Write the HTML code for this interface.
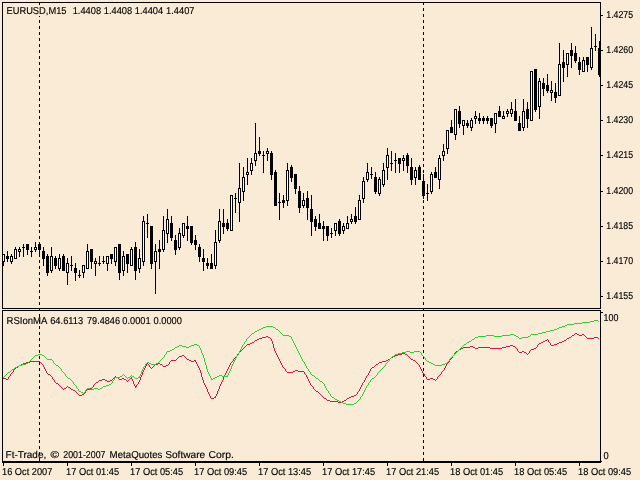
<!DOCTYPE html>
<html lang="en"><head><meta charset="utf-8"><title>EURUSD,M15</title>
<style>html,body{margin:0;padding:0;background:#FAEBD7;overflow:hidden}svg{display:block;will-change:transform}text{font-family:"Liberation Sans",sans-serif;font-size:10px;text-rendering:geometricPrecision;fill:#000;white-space:pre;stroke:#000;stroke-width:0.15px}</style></head><body>
<svg width="640" height="480" viewBox="0 0 640 480">
<rect width="640" height="480" fill="#FAEBD7"/>
<g shape-rendering="crispEdges">
<rect x="39" y="2" width="1" height="3" fill="#000"/>
<rect x="39" y="16" width="1" height="1" fill="#000"/>
<rect x="39" y="20" width="1" height="3" fill="#000"/>
<rect x="39" y="26" width="1" height="3" fill="#000"/>
<rect x="39" y="32" width="1" height="3" fill="#000"/>
<rect x="39" y="38" width="1" height="3" fill="#000"/>
<rect x="39" y="44" width="1" height="3" fill="#000"/>
<rect x="39" y="50" width="1" height="3" fill="#000"/>
<rect x="39" y="56" width="1" height="3" fill="#000"/>
<rect x="39" y="62" width="1" height="3" fill="#000"/>
<rect x="39" y="68" width="1" height="3" fill="#000"/>
<rect x="39" y="74" width="1" height="3" fill="#000"/>
<rect x="39" y="80" width="1" height="3" fill="#000"/>
<rect x="39" y="86" width="1" height="3" fill="#000"/>
<rect x="39" y="92" width="1" height="3" fill="#000"/>
<rect x="39" y="98" width="1" height="3" fill="#000"/>
<rect x="39" y="104" width="1" height="3" fill="#000"/>
<rect x="39" y="110" width="1" height="3" fill="#000"/>
<rect x="39" y="116" width="1" height="3" fill="#000"/>
<rect x="39" y="122" width="1" height="3" fill="#000"/>
<rect x="39" y="128" width="1" height="3" fill="#000"/>
<rect x="39" y="134" width="1" height="3" fill="#000"/>
<rect x="39" y="140" width="1" height="3" fill="#000"/>
<rect x="39" y="146" width="1" height="3" fill="#000"/>
<rect x="39" y="152" width="1" height="3" fill="#000"/>
<rect x="39" y="158" width="1" height="3" fill="#000"/>
<rect x="39" y="164" width="1" height="3" fill="#000"/>
<rect x="39" y="170" width="1" height="3" fill="#000"/>
<rect x="39" y="176" width="1" height="3" fill="#000"/>
<rect x="39" y="182" width="1" height="3" fill="#000"/>
<rect x="39" y="188" width="1" height="3" fill="#000"/>
<rect x="39" y="194" width="1" height="3" fill="#000"/>
<rect x="39" y="200" width="1" height="3" fill="#000"/>
<rect x="39" y="206" width="1" height="3" fill="#000"/>
<rect x="39" y="212" width="1" height="3" fill="#000"/>
<rect x="39" y="218" width="1" height="3" fill="#000"/>
<rect x="39" y="224" width="1" height="3" fill="#000"/>
<rect x="39" y="230" width="1" height="3" fill="#000"/>
<rect x="39" y="236" width="1" height="3" fill="#000"/>
<rect x="39" y="242" width="1" height="3" fill="#000"/>
<rect x="39" y="248" width="1" height="3" fill="#000"/>
<rect x="39" y="254" width="1" height="3" fill="#000"/>
<rect x="39" y="260" width="1" height="3" fill="#000"/>
<rect x="39" y="266" width="1" height="3" fill="#000"/>
<rect x="39" y="272" width="1" height="3" fill="#000"/>
<rect x="39" y="278" width="1" height="3" fill="#000"/>
<rect x="39" y="284" width="1" height="3" fill="#000"/>
<rect x="39" y="290" width="1" height="3" fill="#000"/>
<rect x="39" y="296" width="1" height="3" fill="#000"/>
<rect x="39" y="302" width="1" height="3" fill="#000"/>
<rect x="39" y="308" width="1" height="3" fill="#000"/>
<rect x="39" y="314" width="1" height="3" fill="#000"/>
<rect x="39" y="320" width="1" height="3" fill="#000"/>
<rect x="39" y="326" width="1" height="3" fill="#000"/>
<rect x="39" y="332" width="1" height="3" fill="#000"/>
<rect x="39" y="338" width="1" height="3" fill="#000"/>
<rect x="39" y="344" width="1" height="3" fill="#000"/>
<rect x="39" y="350" width="1" height="3" fill="#000"/>
<rect x="39" y="356" width="1" height="3" fill="#000"/>
<rect x="39" y="362" width="1" height="3" fill="#000"/>
<rect x="39" y="368" width="1" height="3" fill="#000"/>
<rect x="39" y="374" width="1" height="3" fill="#000"/>
<rect x="39" y="380" width="1" height="3" fill="#000"/>
<rect x="39" y="386" width="1" height="3" fill="#000"/>
<rect x="39" y="392" width="1" height="3" fill="#000"/>
<rect x="39" y="398" width="1" height="3" fill="#000"/>
<rect x="39" y="404" width="1" height="3" fill="#000"/>
<rect x="39" y="410" width="1" height="3" fill="#000"/>
<rect x="39" y="416" width="1" height="3" fill="#000"/>
<rect x="39" y="422" width="1" height="3" fill="#000"/>
<rect x="39" y="428" width="1" height="3" fill="#000"/>
<rect x="39" y="434" width="1" height="3" fill="#000"/>
<rect x="39" y="440" width="1" height="3" fill="#000"/>
<rect x="39" y="446" width="1" height="3" fill="#000"/>
<rect x="39" y="452" width="1" height="3" fill="#000"/>
<rect x="39" y="458" width="1" height="3" fill="#000"/>
<rect x="423" y="2" width="1" height="3" fill="#000"/>
<rect x="423" y="8" width="1" height="3" fill="#000"/>
<rect x="423" y="14" width="1" height="3" fill="#000"/>
<rect x="423" y="20" width="1" height="3" fill="#000"/>
<rect x="423" y="26" width="1" height="3" fill="#000"/>
<rect x="423" y="32" width="1" height="3" fill="#000"/>
<rect x="423" y="38" width="1" height="3" fill="#000"/>
<rect x="423" y="44" width="1" height="3" fill="#000"/>
<rect x="423" y="50" width="1" height="3" fill="#000"/>
<rect x="423" y="56" width="1" height="3" fill="#000"/>
<rect x="423" y="62" width="1" height="3" fill="#000"/>
<rect x="423" y="68" width="1" height="3" fill="#000"/>
<rect x="423" y="74" width="1" height="3" fill="#000"/>
<rect x="423" y="80" width="1" height="3" fill="#000"/>
<rect x="423" y="86" width="1" height="3" fill="#000"/>
<rect x="423" y="92" width="1" height="3" fill="#000"/>
<rect x="423" y="98" width="1" height="3" fill="#000"/>
<rect x="423" y="104" width="1" height="3" fill="#000"/>
<rect x="423" y="110" width="1" height="3" fill="#000"/>
<rect x="423" y="116" width="1" height="3" fill="#000"/>
<rect x="423" y="122" width="1" height="3" fill="#000"/>
<rect x="423" y="128" width="1" height="3" fill="#000"/>
<rect x="423" y="134" width="1" height="3" fill="#000"/>
<rect x="423" y="140" width="1" height="3" fill="#000"/>
<rect x="423" y="146" width="1" height="3" fill="#000"/>
<rect x="423" y="152" width="1" height="3" fill="#000"/>
<rect x="423" y="158" width="1" height="3" fill="#000"/>
<rect x="423" y="164" width="1" height="3" fill="#000"/>
<rect x="423" y="170" width="1" height="3" fill="#000"/>
<rect x="423" y="176" width="1" height="3" fill="#000"/>
<rect x="423" y="182" width="1" height="3" fill="#000"/>
<rect x="423" y="188" width="1" height="3" fill="#000"/>
<rect x="423" y="194" width="1" height="3" fill="#000"/>
<rect x="423" y="200" width="1" height="3" fill="#000"/>
<rect x="423" y="206" width="1" height="3" fill="#000"/>
<rect x="423" y="212" width="1" height="3" fill="#000"/>
<rect x="423" y="218" width="1" height="3" fill="#000"/>
<rect x="423" y="224" width="1" height="3" fill="#000"/>
<rect x="423" y="230" width="1" height="3" fill="#000"/>
<rect x="423" y="236" width="1" height="3" fill="#000"/>
<rect x="423" y="242" width="1" height="3" fill="#000"/>
<rect x="423" y="248" width="1" height="3" fill="#000"/>
<rect x="423" y="254" width="1" height="3" fill="#000"/>
<rect x="423" y="260" width="1" height="3" fill="#000"/>
<rect x="423" y="266" width="1" height="3" fill="#000"/>
<rect x="423" y="272" width="1" height="3" fill="#000"/>
<rect x="423" y="278" width="1" height="3" fill="#000"/>
<rect x="423" y="284" width="1" height="3" fill="#000"/>
<rect x="423" y="290" width="1" height="3" fill="#000"/>
<rect x="423" y="296" width="1" height="3" fill="#000"/>
<rect x="423" y="302" width="1" height="3" fill="#000"/>
<rect x="423" y="308" width="1" height="3" fill="#000"/>
<rect x="423" y="314" width="1" height="3" fill="#000"/>
<rect x="423" y="320" width="1" height="3" fill="#000"/>
<rect x="423" y="326" width="1" height="3" fill="#000"/>
<rect x="423" y="332" width="1" height="3" fill="#000"/>
<rect x="423" y="338" width="1" height="3" fill="#000"/>
<rect x="423" y="344" width="1" height="3" fill="#000"/>
<rect x="423" y="350" width="1" height="3" fill="#000"/>
<rect x="423" y="356" width="1" height="3" fill="#000"/>
<rect x="423" y="362" width="1" height="3" fill="#000"/>
<rect x="423" y="368" width="1" height="3" fill="#000"/>
<rect x="423" y="374" width="1" height="3" fill="#000"/>
<rect x="423" y="380" width="1" height="3" fill="#000"/>
<rect x="423" y="386" width="1" height="3" fill="#000"/>
<rect x="423" y="392" width="1" height="3" fill="#000"/>
<rect x="423" y="398" width="1" height="3" fill="#000"/>
<rect x="423" y="404" width="1" height="3" fill="#000"/>
<rect x="423" y="410" width="1" height="3" fill="#000"/>
<rect x="423" y="416" width="1" height="3" fill="#000"/>
<rect x="423" y="422" width="1" height="3" fill="#000"/>
<rect x="423" y="428" width="1" height="3" fill="#000"/>
<rect x="423" y="434" width="1" height="3" fill="#000"/>
<rect x="423" y="440" width="1" height="3" fill="#000"/>
<rect x="423" y="446" width="1" height="3" fill="#000"/>
<rect x="423" y="452" width="1" height="3" fill="#000"/>
<rect x="423" y="458" width="1" height="3" fill="#000"/>
<g id="candles">
<rect x="3" y="254" width="1" height="12" fill="#000"/>
<rect x="2" y="254" width="3" height="8" fill="#000"/>
<rect x="3" y="255" width="1" height="6" fill="#fff"/>
<rect x="7" y="251" width="1" height="11" fill="#000"/>
<rect x="6" y="256" width="3" height="3" fill="#000"/>
<rect x="11" y="254" width="1" height="10" fill="#000"/>
<rect x="10" y="256" width="3" height="6" fill="#000"/>
<rect x="11" y="257" width="1" height="4" fill="#fff"/>
<rect x="15" y="247" width="1" height="12" fill="#000"/>
<rect x="14" y="249" width="3" height="10" fill="#000"/>
<rect x="15" y="250" width="1" height="8" fill="#fff"/>
<rect x="19" y="247" width="1" height="10" fill="#000"/>
<rect x="18" y="249" width="3" height="3" fill="#000"/>
<rect x="19" y="250" width="1" height="1" fill="#fff"/>
<rect x="23" y="244" width="1" height="13" fill="#000"/>
<rect x="22" y="247" width="3" height="1" fill="#000"/>
<rect x="27" y="244" width="1" height="11" fill="#000"/>
<rect x="26" y="244" width="3" height="6" fill="#000"/>
<rect x="31" y="247" width="1" height="10" fill="#000"/>
<rect x="30" y="251" width="3" height="1" fill="#000"/>
<rect x="35" y="242" width="1" height="10" fill="#000"/>
<rect x="34" y="247" width="3" height="3" fill="#000"/>
<rect x="35" y="248" width="1" height="1" fill="#fff"/>
<rect x="39" y="244" width="1" height="13" fill="#000"/>
<rect x="38" y="244" width="3" height="6" fill="#000"/>
<rect x="43" y="247" width="1" height="19" fill="#000"/>
<rect x="42" y="251" width="3" height="8" fill="#000"/>
<rect x="47" y="254" width="1" height="22" fill="#000"/>
<rect x="46" y="256" width="3" height="17" fill="#000"/>
<rect x="51" y="247" width="1" height="26" fill="#000"/>
<rect x="50" y="256" width="3" height="15" fill="#000"/>
<rect x="51" y="257" width="1" height="13" fill="#fff"/>
<rect x="55" y="256" width="1" height="13" fill="#000"/>
<rect x="54" y="258" width="3" height="8" fill="#000"/>
<rect x="59" y="254" width="1" height="17" fill="#000"/>
<rect x="58" y="258" width="3" height="11" fill="#000"/>
<rect x="59" y="259" width="1" height="9" fill="#fff"/>
<rect x="63" y="254" width="1" height="17" fill="#000"/>
<rect x="62" y="256" width="3" height="15" fill="#000"/>
<rect x="67" y="258" width="1" height="27" fill="#000"/>
<rect x="66" y="263" width="3" height="10" fill="#000"/>
<rect x="67" y="264" width="1" height="8" fill="#fff"/>
<rect x="71" y="256" width="1" height="15" fill="#000"/>
<rect x="70" y="265" width="3" height="1" fill="#000"/>
<rect x="75" y="263" width="1" height="18" fill="#000"/>
<rect x="74" y="268" width="3" height="5" fill="#000"/>
<rect x="79" y="270" width="1" height="8" fill="#000"/>
<rect x="78" y="275" width="3" height="1" fill="#000"/>
<rect x="83" y="265" width="1" height="13" fill="#000"/>
<rect x="82" y="265" width="3" height="8" fill="#000"/>
<rect x="83" y="266" width="1" height="6" fill="#fff"/>
<rect x="87" y="244" width="1" height="25" fill="#000"/>
<rect x="86" y="251" width="3" height="18" fill="#000"/>
<rect x="87" y="252" width="1" height="16" fill="#fff"/>
<rect x="91" y="249" width="1" height="20" fill="#000"/>
<rect x="90" y="249" width="3" height="13" fill="#000"/>
<rect x="95" y="258" width="1" height="18" fill="#000"/>
<rect x="94" y="261" width="3" height="3" fill="#000"/>
<rect x="95" y="262" width="1" height="1" fill="#fff"/>
<rect x="99" y="256" width="1" height="10" fill="#000"/>
<rect x="98" y="263" width="3" height="1" fill="#000"/>
<rect x="103" y="256" width="1" height="8" fill="#000"/>
<rect x="102" y="261" width="3" height="1" fill="#000"/>
<rect x="107" y="256" width="1" height="15" fill="#000"/>
<rect x="106" y="256" width="3" height="8" fill="#000"/>
<rect x="107" y="257" width="1" height="6" fill="#fff"/>
<rect x="111" y="254" width="1" height="10" fill="#000"/>
<rect x="110" y="254" width="3" height="5" fill="#000"/>
<rect x="115" y="247" width="1" height="19" fill="#000"/>
<rect x="114" y="247" width="3" height="15" fill="#000"/>
<rect x="115" y="248" width="1" height="13" fill="#fff"/>
<rect x="119" y="244" width="1" height="36" fill="#000"/>
<rect x="118" y="244" width="3" height="29" fill="#000"/>
<rect x="123" y="251" width="1" height="25" fill="#000"/>
<rect x="122" y="256" width="3" height="15" fill="#000"/>
<rect x="123" y="257" width="1" height="13" fill="#fff"/>
<rect x="127" y="254" width="1" height="19" fill="#000"/>
<rect x="126" y="254" width="3" height="10" fill="#000"/>
<rect x="131" y="247" width="1" height="19" fill="#000"/>
<rect x="130" y="249" width="3" height="17" fill="#000"/>
<rect x="131" y="250" width="1" height="15" fill="#fff"/>
<rect x="135" y="242" width="1" height="38" fill="#000"/>
<rect x="134" y="247" width="3" height="24" fill="#000"/>
<rect x="139" y="249" width="1" height="24" fill="#000"/>
<rect x="138" y="258" width="3" height="11" fill="#000"/>
<rect x="139" y="259" width="1" height="9" fill="#fff"/>
<rect x="143" y="216" width="1" height="50" fill="#000"/>
<rect x="142" y="221" width="3" height="41" fill="#000"/>
<rect x="143" y="222" width="1" height="39" fill="#fff"/>
<rect x="147" y="214" width="1" height="24" fill="#000"/>
<rect x="146" y="223" width="3" height="1" fill="#000"/>
<rect x="151" y="226" width="1" height="43" fill="#000"/>
<rect x="150" y="226" width="3" height="38" fill="#000"/>
<rect x="155" y="244" width="1" height="50" fill="#000"/>
<rect x="154" y="251" width="3" height="11" fill="#000"/>
<rect x="155" y="252" width="1" height="9" fill="#fff"/>
<rect x="159" y="240" width="1" height="29" fill="#000"/>
<rect x="158" y="249" width="3" height="3" fill="#000"/>
<rect x="163" y="216" width="1" height="36" fill="#000"/>
<rect x="162" y="230" width="3" height="20" fill="#000"/>
<rect x="163" y="231" width="1" height="18" fill="#fff"/>
<rect x="167" y="209" width="1" height="34" fill="#000"/>
<rect x="166" y="219" width="3" height="15" fill="#000"/>
<rect x="167" y="220" width="1" height="13" fill="#fff"/>
<rect x="171" y="216" width="1" height="25" fill="#000"/>
<rect x="170" y="223" width="3" height="15" fill="#000"/>
<rect x="175" y="235" width="1" height="20" fill="#000"/>
<rect x="174" y="240" width="3" height="10" fill="#000"/>
<rect x="179" y="228" width="1" height="22" fill="#000"/>
<rect x="178" y="233" width="3" height="15" fill="#000"/>
<rect x="179" y="234" width="1" height="13" fill="#fff"/>
<rect x="183" y="223" width="1" height="15" fill="#000"/>
<rect x="182" y="223" width="3" height="13" fill="#000"/>
<rect x="183" y="224" width="1" height="11" fill="#fff"/>
<rect x="187" y="216" width="1" height="25" fill="#000"/>
<rect x="186" y="226" width="3" height="3" fill="#000"/>
<rect x="191" y="226" width="1" height="19" fill="#000"/>
<rect x="190" y="226" width="3" height="17" fill="#000"/>
<rect x="195" y="235" width="1" height="15" fill="#000"/>
<rect x="194" y="240" width="3" height="5" fill="#000"/>
<rect x="199" y="244" width="1" height="18" fill="#000"/>
<rect x="198" y="247" width="3" height="10" fill="#000"/>
<rect x="203" y="249" width="1" height="22" fill="#000"/>
<rect x="202" y="258" width="3" height="4" fill="#000"/>
<rect x="207" y="258" width="1" height="11" fill="#000"/>
<rect x="206" y="263" width="3" height="3" fill="#000"/>
<rect x="211" y="254" width="1" height="15" fill="#000"/>
<rect x="210" y="263" width="3" height="6" fill="#000"/>
<rect x="215" y="230" width="1" height="39" fill="#000"/>
<rect x="214" y="242" width="3" height="24" fill="#000"/>
<rect x="215" y="243" width="1" height="22" fill="#fff"/>
<rect x="219" y="209" width="1" height="34" fill="#000"/>
<rect x="218" y="221" width="3" height="20" fill="#000"/>
<rect x="219" y="222" width="1" height="18" fill="#fff"/>
<rect x="223" y="209" width="1" height="25" fill="#000"/>
<rect x="222" y="223" width="3" height="4" fill="#000"/>
<rect x="227" y="219" width="1" height="12" fill="#000"/>
<rect x="226" y="223" width="3" height="6" fill="#000"/>
<rect x="231" y="195" width="1" height="36" fill="#000"/>
<rect x="230" y="195" width="3" height="36" fill="#000"/>
<rect x="231" y="196" width="1" height="34" fill="#fff"/>
<rect x="235" y="193" width="1" height="20" fill="#000"/>
<rect x="234" y="198" width="3" height="1" fill="#000"/>
<rect x="239" y="163" width="1" height="59" fill="#000"/>
<rect x="238" y="188" width="3" height="15" fill="#000"/>
<rect x="239" y="189" width="1" height="13" fill="#fff"/>
<rect x="243" y="167" width="1" height="34" fill="#000"/>
<rect x="242" y="177" width="3" height="15" fill="#000"/>
<rect x="243" y="178" width="1" height="13" fill="#fff"/>
<rect x="247" y="158" width="1" height="27" fill="#000"/>
<rect x="246" y="172" width="3" height="3" fill="#000"/>
<rect x="247" y="173" width="1" height="1" fill="#fff"/>
<rect x="251" y="158" width="1" height="17" fill="#000"/>
<rect x="250" y="163" width="3" height="8" fill="#000"/>
<rect x="251" y="164" width="1" height="6" fill="#fff"/>
<rect x="255" y="123" width="1" height="43" fill="#000"/>
<rect x="254" y="153" width="3" height="8" fill="#000"/>
<rect x="255" y="154" width="1" height="6" fill="#fff"/>
<rect x="259" y="137" width="1" height="19" fill="#000"/>
<rect x="258" y="151" width="3" height="3" fill="#000"/>
<rect x="263" y="151" width="1" height="22" fill="#000"/>
<rect x="262" y="155" width="3" height="1" fill="#000"/>
<rect x="267" y="148" width="1" height="13" fill="#000"/>
<rect x="266" y="151" width="3" height="3" fill="#000"/>
<rect x="267" y="152" width="1" height="1" fill="#fff"/>
<rect x="271" y="151" width="1" height="29" fill="#000"/>
<rect x="270" y="153" width="3" height="22" fill="#000"/>
<rect x="275" y="170" width="1" height="36" fill="#000"/>
<rect x="274" y="172" width="3" height="34" fill="#000"/>
<rect x="279" y="193" width="1" height="27" fill="#000"/>
<rect x="278" y="202" width="3" height="1" fill="#000"/>
<rect x="283" y="195" width="1" height="13" fill="#000"/>
<rect x="282" y="200" width="3" height="3" fill="#000"/>
<rect x="287" y="163" width="1" height="43" fill="#000"/>
<rect x="286" y="170" width="3" height="31" fill="#000"/>
<rect x="287" y="171" width="1" height="29" fill="#fff"/>
<rect x="291" y="165" width="1" height="17" fill="#000"/>
<rect x="290" y="167" width="3" height="11" fill="#000"/>
<rect x="295" y="174" width="1" height="20" fill="#000"/>
<rect x="294" y="174" width="3" height="15" fill="#000"/>
<rect x="299" y="186" width="1" height="27" fill="#000"/>
<rect x="298" y="191" width="3" height="17" fill="#000"/>
<rect x="303" y="193" width="1" height="15" fill="#000"/>
<rect x="302" y="200" width="3" height="6" fill="#000"/>
<rect x="303" y="201" width="1" height="4" fill="#fff"/>
<rect x="307" y="191" width="1" height="29" fill="#000"/>
<rect x="306" y="198" width="3" height="10" fill="#000"/>
<rect x="311" y="195" width="1" height="41" fill="#000"/>
<rect x="310" y="209" width="3" height="13" fill="#000"/>
<rect x="315" y="216" width="1" height="15" fill="#000"/>
<rect x="314" y="219" width="3" height="8" fill="#000"/>
<rect x="319" y="214" width="1" height="15" fill="#000"/>
<rect x="318" y="223" width="3" height="6" fill="#000"/>
<rect x="323" y="221" width="1" height="20" fill="#000"/>
<rect x="322" y="226" width="3" height="3" fill="#000"/>
<rect x="327" y="226" width="1" height="15" fill="#000"/>
<rect x="326" y="226" width="3" height="10" fill="#000"/>
<rect x="331" y="228" width="1" height="10" fill="#000"/>
<rect x="330" y="233" width="3" height="1" fill="#000"/>
<rect x="335" y="223" width="1" height="13" fill="#000"/>
<rect x="334" y="223" width="3" height="8" fill="#000"/>
<rect x="335" y="224" width="1" height="6" fill="#fff"/>
<rect x="339" y="219" width="1" height="17" fill="#000"/>
<rect x="338" y="221" width="3" height="13" fill="#000"/>
<rect x="343" y="223" width="1" height="11" fill="#000"/>
<rect x="342" y="226" width="3" height="5" fill="#000"/>
<rect x="343" y="227" width="1" height="3" fill="#fff"/>
<rect x="347" y="216" width="1" height="13" fill="#000"/>
<rect x="346" y="223" width="3" height="6" fill="#000"/>
<rect x="347" y="224" width="1" height="4" fill="#fff"/>
<rect x="351" y="214" width="1" height="10" fill="#000"/>
<rect x="350" y="219" width="3" height="3" fill="#000"/>
<rect x="351" y="220" width="1" height="1" fill="#fff"/>
<rect x="355" y="207" width="1" height="17" fill="#000"/>
<rect x="354" y="216" width="3" height="6" fill="#000"/>
<rect x="359" y="195" width="1" height="25" fill="#000"/>
<rect x="358" y="200" width="3" height="20" fill="#000"/>
<rect x="359" y="201" width="1" height="18" fill="#fff"/>
<rect x="363" y="177" width="1" height="26" fill="#000"/>
<rect x="362" y="181" width="3" height="18" fill="#000"/>
<rect x="363" y="182" width="1" height="16" fill="#fff"/>
<rect x="367" y="163" width="1" height="19" fill="#000"/>
<rect x="366" y="172" width="3" height="8" fill="#000"/>
<rect x="367" y="173" width="1" height="6" fill="#fff"/>
<rect x="371" y="167" width="1" height="12" fill="#000"/>
<rect x="370" y="174" width="3" height="1" fill="#000"/>
<rect x="375" y="172" width="1" height="22" fill="#000"/>
<rect x="374" y="177" width="3" height="15" fill="#000"/>
<rect x="379" y="177" width="1" height="19" fill="#000"/>
<rect x="378" y="179" width="3" height="15" fill="#000"/>
<rect x="379" y="180" width="1" height="13" fill="#fff"/>
<rect x="383" y="163" width="1" height="24" fill="#000"/>
<rect x="382" y="170" width="3" height="15" fill="#000"/>
<rect x="383" y="171" width="1" height="13" fill="#fff"/>
<rect x="387" y="148" width="1" height="32" fill="#000"/>
<rect x="386" y="155" width="3" height="13" fill="#000"/>
<rect x="387" y="156" width="1" height="11" fill="#fff"/>
<rect x="391" y="151" width="1" height="20" fill="#000"/>
<rect x="390" y="163" width="3" height="1" fill="#000"/>
<rect x="395" y="153" width="1" height="20" fill="#000"/>
<rect x="394" y="160" width="3" height="1" fill="#000"/>
<rect x="399" y="158" width="1" height="15" fill="#000"/>
<rect x="398" y="158" width="3" height="6" fill="#000"/>
<rect x="403" y="155" width="1" height="16" fill="#000"/>
<rect x="402" y="158" width="3" height="3" fill="#000"/>
<rect x="403" y="159" width="1" height="1" fill="#fff"/>
<rect x="407" y="153" width="1" height="20" fill="#000"/>
<rect x="406" y="155" width="3" height="11" fill="#000"/>
<rect x="411" y="158" width="1" height="27" fill="#000"/>
<rect x="410" y="167" width="3" height="13" fill="#000"/>
<rect x="415" y="167" width="1" height="18" fill="#000"/>
<rect x="414" y="170" width="3" height="8" fill="#000"/>
<rect x="415" y="171" width="1" height="6" fill="#fff"/>
<rect x="419" y="165" width="1" height="15" fill="#000"/>
<rect x="418" y="167" width="3" height="13" fill="#000"/>
<rect x="423" y="174" width="1" height="25" fill="#000"/>
<rect x="422" y="181" width="3" height="15" fill="#000"/>
<rect x="427" y="184" width="1" height="17" fill="#000"/>
<rect x="426" y="193" width="3" height="1" fill="#000"/>
<rect x="431" y="172" width="1" height="22" fill="#000"/>
<rect x="430" y="174" width="3" height="18" fill="#000"/>
<rect x="431" y="175" width="1" height="16" fill="#fff"/>
<rect x="435" y="167" width="1" height="11" fill="#000"/>
<rect x="434" y="172" width="3" height="6" fill="#000"/>
<rect x="439" y="155" width="1" height="34" fill="#000"/>
<rect x="438" y="158" width="3" height="22" fill="#000"/>
<rect x="439" y="159" width="1" height="20" fill="#fff"/>
<rect x="443" y="144" width="1" height="17" fill="#000"/>
<rect x="442" y="151" width="3" height="5" fill="#000"/>
<rect x="443" y="152" width="1" height="3" fill="#fff"/>
<rect x="447" y="130" width="1" height="24" fill="#000"/>
<rect x="446" y="130" width="3" height="19" fill="#000"/>
<rect x="447" y="131" width="1" height="17" fill="#fff"/>
<rect x="451" y="120" width="1" height="13" fill="#000"/>
<rect x="450" y="127" width="3" height="6" fill="#000"/>
<rect x="455" y="109" width="1" height="31" fill="#000"/>
<rect x="454" y="109" width="3" height="26" fill="#000"/>
<rect x="455" y="110" width="1" height="24" fill="#fff"/>
<rect x="459" y="106" width="1" height="22" fill="#000"/>
<rect x="458" y="111" width="3" height="13" fill="#000"/>
<rect x="463" y="120" width="1" height="15" fill="#000"/>
<rect x="462" y="120" width="3" height="6" fill="#000"/>
<rect x="463" y="121" width="1" height="4" fill="#fff"/>
<rect x="467" y="120" width="1" height="8" fill="#000"/>
<rect x="466" y="123" width="3" height="3" fill="#000"/>
<rect x="471" y="118" width="1" height="13" fill="#000"/>
<rect x="470" y="120" width="3" height="8" fill="#000"/>
<rect x="471" y="121" width="1" height="6" fill="#fff"/>
<rect x="475" y="111" width="1" height="13" fill="#000"/>
<rect x="474" y="116" width="3" height="3" fill="#000"/>
<rect x="475" y="117" width="1" height="1" fill="#fff"/>
<rect x="479" y="113" width="1" height="11" fill="#000"/>
<rect x="478" y="118" width="3" height="3" fill="#000"/>
<rect x="483" y="116" width="1" height="8" fill="#000"/>
<rect x="482" y="118" width="3" height="3" fill="#000"/>
<rect x="487" y="116" width="1" height="8" fill="#000"/>
<rect x="486" y="118" width="3" height="3" fill="#000"/>
<rect x="491" y="118" width="1" height="10" fill="#000"/>
<rect x="490" y="118" width="3" height="8" fill="#000"/>
<rect x="495" y="113" width="1" height="20" fill="#000"/>
<rect x="494" y="113" width="3" height="11" fill="#000"/>
<rect x="495" y="114" width="1" height="9" fill="#fff"/>
<rect x="499" y="106" width="1" height="11" fill="#000"/>
<rect x="498" y="111" width="3" height="6" fill="#000"/>
<rect x="503" y="111" width="1" height="8" fill="#000"/>
<rect x="502" y="116" width="3" height="3" fill="#000"/>
<rect x="503" y="117" width="1" height="1" fill="#fff"/>
<rect x="507" y="109" width="1" height="8" fill="#000"/>
<rect x="506" y="111" width="3" height="3" fill="#000"/>
<rect x="507" y="112" width="1" height="1" fill="#fff"/>
<rect x="511" y="102" width="1" height="15" fill="#000"/>
<rect x="510" y="109" width="3" height="5" fill="#000"/>
<rect x="511" y="110" width="1" height="3" fill="#fff"/>
<rect x="515" y="99" width="1" height="22" fill="#000"/>
<rect x="514" y="111" width="3" height="10" fill="#000"/>
<rect x="519" y="116" width="1" height="15" fill="#000"/>
<rect x="518" y="123" width="3" height="8" fill="#000"/>
<rect x="523" y="99" width="1" height="32" fill="#000"/>
<rect x="522" y="111" width="3" height="17" fill="#000"/>
<rect x="523" y="112" width="1" height="15" fill="#fff"/>
<rect x="527" y="102" width="1" height="26" fill="#000"/>
<rect x="526" y="109" width="3" height="10" fill="#000"/>
<rect x="531" y="71" width="1" height="50" fill="#000"/>
<rect x="530" y="71" width="3" height="50" fill="#000"/>
<rect x="531" y="72" width="1" height="48" fill="#fff"/>
<rect x="535" y="69" width="1" height="43" fill="#000"/>
<rect x="534" y="69" width="3" height="41" fill="#000"/>
<rect x="539" y="78" width="1" height="41" fill="#000"/>
<rect x="538" y="81" width="3" height="26" fill="#000"/>
<rect x="539" y="82" width="1" height="24" fill="#fff"/>
<rect x="543" y="78" width="1" height="18" fill="#000"/>
<rect x="542" y="83" width="3" height="6" fill="#000"/>
<rect x="547" y="74" width="1" height="19" fill="#000"/>
<rect x="546" y="85" width="3" height="6" fill="#000"/>
<rect x="551" y="81" width="1" height="20" fill="#000"/>
<rect x="550" y="90" width="3" height="3" fill="#000"/>
<rect x="551" y="91" width="1" height="1" fill="#fff"/>
<rect x="555" y="83" width="1" height="20" fill="#000"/>
<rect x="554" y="92" width="3" height="6" fill="#000"/>
<rect x="559" y="43" width="1" height="53" fill="#000"/>
<rect x="558" y="64" width="3" height="32" fill="#000"/>
<rect x="559" y="65" width="1" height="30" fill="#fff"/>
<rect x="563" y="50" width="1" height="32" fill="#000"/>
<rect x="562" y="62" width="3" height="6" fill="#000"/>
<rect x="567" y="53" width="1" height="24" fill="#000"/>
<rect x="566" y="53" width="3" height="12" fill="#000"/>
<rect x="567" y="54" width="1" height="10" fill="#fff"/>
<rect x="571" y="43" width="1" height="25" fill="#000"/>
<rect x="570" y="50" width="3" height="6" fill="#000"/>
<rect x="575" y="46" width="1" height="17" fill="#000"/>
<rect x="574" y="53" width="3" height="8" fill="#000"/>
<rect x="579" y="57" width="1" height="18" fill="#000"/>
<rect x="578" y="62" width="3" height="8" fill="#000"/>
<rect x="583" y="57" width="1" height="15" fill="#000"/>
<rect x="582" y="60" width="3" height="12" fill="#000"/>
<rect x="583" y="61" width="1" height="10" fill="#fff"/>
<rect x="587" y="57" width="1" height="15" fill="#000"/>
<rect x="586" y="57" width="3" height="8" fill="#000"/>
<rect x="591" y="27" width="1" height="43" fill="#000"/>
<rect x="590" y="48" width="3" height="20" fill="#000"/>
<rect x="591" y="49" width="1" height="18" fill="#fff"/>
<rect x="595" y="34" width="1" height="17" fill="#000"/>
<rect x="594" y="46" width="3" height="1" fill="#000"/>
<rect x="599" y="41" width="1" height="36" fill="#000"/>
<rect x="598" y="48" width="3" height="27" fill="#000"/>
</g>
<rect x="601" y="0" width="39" height="480" fill="#FAEBD7"/>
<rect x="2" y="2" width="599" height="1" fill="#000"/>
<rect x="2" y="2" width="1" height="307" fill="#000"/>
<rect x="2" y="310" width="1" height="153" fill="#000"/>
<rect x="600" y="2" width="1" height="307" fill="#000"/>
<rect x="600" y="310" width="1" height="153" fill="#000"/>
<rect x="2" y="308" width="599" height="1" fill="#000"/>
<rect x="2" y="310" width="599" height="1" fill="#000"/>
<rect x="2" y="461" width="599" height="2" fill="#000"/>
<rect x="601" y="15" width="2" height="1" fill="#000"/>
<rect x="601" y="50" width="2" height="1" fill="#000"/>
<rect x="601" y="85" width="2" height="1" fill="#000"/>
<rect x="601" y="120" width="2" height="1" fill="#000"/>
<rect x="601" y="155" width="2" height="1" fill="#000"/>
<rect x="601" y="191" width="2" height="1" fill="#000"/>
<rect x="601" y="226" width="2" height="1" fill="#000"/>
<rect x="601" y="261" width="2" height="1" fill="#000"/>
<rect x="601" y="296" width="2" height="1" fill="#000"/>
<rect x="601" y="312" width="2" height="1" fill="#000"/>
<rect x="601" y="461" width="1" height="1" fill="#000"/>
<rect x="3" y="463" width="1" height="3" fill="#000"/>
<rect x="67" y="463" width="1" height="3" fill="#000"/>
<rect x="131" y="463" width="1" height="3" fill="#000"/>
<rect x="195" y="463" width="1" height="3" fill="#000"/>
<rect x="259" y="463" width="1" height="3" fill="#000"/>
<rect x="323" y="463" width="1" height="3" fill="#000"/>
<rect x="387" y="463" width="1" height="3" fill="#000"/>
<rect x="451" y="463" width="1" height="3" fill="#000"/>
<rect x="515" y="463" width="1" height="3" fill="#000"/>
<rect x="579" y="463" width="1" height="3" fill="#000"/>
</g>
<path d="M3 378h3v1h-3zM6 379h2v1h-2zM8 377h1v2h-1zM9 376h1v1h-1zM10 374h1v2h-1zM11 373h1v1h-1zM12 372h1v1h-1zM13 370h1v2h-1zM14 369h1v1h-1zM15 368h1v1h-1zM16 367h2v1h-2zM18 366h1v1h-1zM19 365h2v1h-2zM21 364h2v1h-2zM23 363h3v1h-3zM26 362h4v1h-4zM30 361h10v1h-10zM40 362h1v1h-1zM41 363h1v1h-1zM42 364h1v1h-1zM43 365h1v2h-1zM44 367h1v2h-1zM45 369h1v2h-1zM46 371h1v2h-1zM47 373h1v1h-1zM48 374h2v1h-2zM50 375h1v1h-1zM51 376h1v1h-1zM52 377h1v2h-1zM53 379h1v1h-1zM54 380h1v2h-1zM55 382h1v1h-1zM56 383h2v1h-2zM58 384h1v1h-1zM59 385h1v1h-1zM60 386h1v1h-1zM61 387h1v1h-1zM62 388h1v1h-1zM63 389h1v1h-1zM64 388h2v1h-2zM66 387h1v1h-1zM67 386h1v1h-1zM68 387h2v1h-2zM70 388h1v1h-1zM71 389h2v1h-2zM73 390h2v1h-2zM75 391h1v1h-1zM76 392h1v1h-1zM77 393h1v1h-1zM78 394h1v1h-1zM79 395h3v1h-3zM82 394h2v1h-2zM84 393h1v1h-1zM85 391h1v2h-1zM86 390h1v1h-1zM87 389h3v1h-3zM90 388h2v1h-2zM92 387h1v1h-1zM93 385h1v2h-1zM94 384h1v1h-1zM95 383h1v1h-1zM96 382h2v1h-2zM98 381h1v1h-1zM99 380h3v1h-3zM102 379h3v1h-3zM105 380h2v1h-2zM107 381h3v1h-3zM110 380h2v1h-2zM112 379h1v1h-1zM113 378h1v1h-1zM114 377h1v1h-1zM115 376h1v1h-1zM116 377h2v1h-2zM118 378h1v1h-1zM119 379h3v1h-3zM122 378h2v1h-2zM124 379h2v1h-2zM126 380h1v1h-1zM127 381h1v1h-1zM128 380h1v1h-1zM129 379h1v1h-1zM130 378h2v1h-2zM131 377h1v1h-1zM132 379h1v2h-1zM133 381h1v3h-1zM134 384h1v2h-1zM135 386h2v1h-2zM135 387h1v1h-1zM136 385h1v1h-1zM137 384h1v1h-1zM138 382h1v2h-1zM139 380h1v2h-1zM140 377h1v3h-1zM141 375h1v2h-1zM142 372h1v3h-1zM143 370h1v2h-1zM144 368h1v2h-1zM145 366h1v2h-1zM146 364h1v2h-1zM147 363h1v1h-1zM148 364h1v1h-1zM149 365h1v2h-1zM150 367h1v1h-1zM151 368h1v1h-1zM152 367h1v1h-1zM153 366h1v1h-1zM154 365h1v1h-1zM155 364h3v1h-3zM158 363h2v1h-2zM160 364h2v1h-2zM162 365h1v1h-1zM163 366h3v1h-3zM166 365h2v1h-2zM168 364h1v1h-1zM169 362h1v2h-1zM170 361h1v1h-1zM171 360h5v1h-5zM176 359h1v1h-1zM177 358h1v1h-1zM178 357h1v1h-1zM179 356h3v1h-3zM182 355h2v1h-2zM184 356h1v1h-1zM185 357h1v1h-1zM186 358h1v1h-1zM187 359h2v1h-2zM189 360h2v1h-2zM191 361h3v1h-3zM194 360h2v1h-2zM195 361h1v1h-1zM196 362h1v2h-1zM197 364h1v2h-1zM198 366h1v2h-1zM199 368h1v2h-1zM200 370h1v3h-1zM201 373h1v4h-1zM202 377h1v3h-1zM203 380h1v3h-1zM204 383h1v2h-1zM205 385h1v2h-1zM206 387h1v2h-1zM207 389h1v3h-1zM208 392h1v2h-1zM209 394h1v2h-1zM210 396h1v2h-1zM211 398h3v1h-3zM214 397h2v1h-2zM215 396h1v1h-1zM216 394h1v2h-1zM217 391h1v3h-1zM218 389h1v2h-1zM219 386h1v3h-1zM220 384h1v2h-1zM221 382h1v2h-1zM222 380h1v2h-1zM223 377h1v3h-1zM224 375h1v2h-1zM225 373h1v2h-1zM226 371h1v2h-1zM227 369h1v2h-1zM228 367h1v2h-1zM229 365h1v2h-1zM230 363h1v2h-1zM231 362h1v1h-1zM232 361h1v1h-1zM233 359h1v2h-1zM234 358h1v1h-1zM235 357h1v1h-1zM236 356h1v1h-1zM237 354h1v2h-1zM238 353h1v1h-1zM239 352h1v1h-1zM240 351h1v1h-1zM241 350h1v1h-1zM242 349h1v1h-1zM243 348h1v1h-1zM244 347h1v1h-1zM245 346h1v1h-1zM246 345h1v1h-1zM247 344h3v1h-3zM250 343h2v1h-2zM252 342h2v1h-2zM254 341h1v1h-1zM255 340h2v1h-2zM257 339h2v1h-2zM259 338h3v1h-3zM262 337h4v1h-4zM266 336h2v1h-2zM268 337h2v1h-2zM270 338h1v1h-1zM271 339h1v2h-1zM272 341h1v3h-1zM273 344h1v4h-1zM274 348h1v3h-1zM275 351h1v2h-1zM276 353h1v2h-1zM277 355h1v2h-1zM278 357h1v2h-1zM279 359h1v2h-1zM280 361h1v2h-1zM281 363h1v2h-1zM282 365h1v2h-1zM283 367h1v1h-1zM284 368h1v1h-1zM285 369h1v2h-1zM286 371h1v1h-1zM287 372h6v1h-6zM293 371h2v1h-2zM295 370h3v1h-3zM298 371h6v1h-6zM304 372h1v2h-1zM305 374h1v1h-1zM306 375h1v2h-1zM307 377h1v2h-1zM308 379h1v2h-1zM309 381h1v2h-1zM310 383h1v2h-1zM311 385h1v1h-1zM312 386h1v1h-1zM313 387h1v2h-1zM314 389h1v1h-1zM315 390h1v1h-1zM316 391h2v1h-2zM318 392h1v1h-1zM319 393h1v1h-1zM320 394h1v1h-1zM321 395h1v1h-1zM322 396h1v1h-1zM323 397h1v1h-1zM324 398h2v1h-2zM326 399h1v1h-1zM327 400h3v1h-3zM330 401h8v1h-8zM338 402h4v1h-4zM342 401h2v1h-2zM344 400h2v1h-2zM346 399h1v1h-1zM347 398h2v1h-2zM349 397h2v1h-2zM351 396h3v1h-3zM354 395h2v1h-2zM356 394h1v1h-1zM357 392h1v2h-1zM358 391h1v1h-1zM359 389h1v2h-1zM360 387h1v2h-1zM361 385h1v2h-1zM362 383h1v2h-1zM363 382h1v1h-1zM364 380h1v2h-1zM365 378h1v2h-1zM366 376h1v2h-1zM367 375h1v1h-1zM368 373h1v2h-1zM369 371h1v2h-1zM370 369h1v2h-1zM371 368h1v1h-1zM372 367h2v1h-2zM374 366h1v1h-1zM375 365h1v1h-1zM376 364h2v1h-2zM378 363h1v1h-1zM379 362h3v1h-3zM382 361h4v1h-4zM386 360h2v1h-2zM388 359h2v1h-2zM390 358h1v1h-1zM391 357h2v1h-2zM393 356h2v1h-2zM395 355h3v1h-3zM398 354h4v1h-4zM402 353h3v1h-3zM405 354h2v1h-2zM407 355h1v1h-1zM408 356h1v1h-1zM409 357h1v1h-1zM410 358h1v1h-1zM411 359h2v1h-2zM413 360h2v1h-2zM415 361h1v1h-1zM416 362h1v1h-1zM417 363h1v1h-1zM418 364h1v1h-1zM419 365h1v2h-1zM420 367h1v2h-1zM421 369h1v2h-1zM422 371h1v2h-1zM423 373h1v1h-1zM424 374h1v2h-1zM425 376h1v1h-1zM426 377h1v2h-1zM427 379h3v1h-3zM430 378h3v1h-3zM433 379h2v1h-2zM435 380h1v1h-1zM436 379h1v1h-1zM437 377h1v2h-1zM438 376h1v1h-1zM439 375h1v1h-1zM440 374h1v1h-1zM441 372h1v2h-1zM442 371h1v1h-1zM443 370h1v1h-1zM444 368h1v2h-1zM445 366h1v2h-1zM446 364h1v2h-1zM447 363h1v1h-1zM448 362h1v1h-1zM449 360h1v2h-1zM450 359h1v1h-1zM451 358h1v1h-1zM452 356h1v2h-1zM453 355h1v1h-1zM454 353h1v2h-1zM455 352h1v1h-1zM456 351h2v1h-2zM458 350h1v1h-1zM459 349h2v1h-2zM461 348h2v1h-2zM463 347h7v1h-7zM470 346h3v1h-3zM473 347h2v1h-2zM475 348h3v1h-3zM478 347h12v1h-12zM490 348h12v1h-12zM502 347h4v1h-4zM506 346h4v1h-4zM510 345h3v1h-3zM513 346h2v1h-2zM515 347h1v1h-1zM516 348h1v1h-1zM517 349h1v2h-1zM518 351h1v1h-1zM519 352h3v1h-3zM522 351h2v1h-2zM524 352h2v1h-2zM526 353h1v1h-1zM527 354h1v1h-1zM528 353h1v1h-1zM529 351h1v2h-1zM530 350h1v1h-1zM531 349h3v1h-3zM534 348h2v1h-2zM536 347h1v1h-1zM537 345h1v2h-1zM538 344h1v1h-1zM539 343h2v1h-2zM541 342h2v1h-2zM543 341h2v1h-2zM545 340h2v1h-2zM547 339h1v1h-1zM548 340h1v2h-1zM549 342h1v1h-1zM550 343h1v2h-1zM551 345h3v1h-3zM554 344h3v1h-3zM557 343h2v1h-2zM559 342h3v1h-3zM562 341h2v1h-2zM564 340h2v1h-2zM566 339h1v1h-1zM567 338h2v1h-2zM569 337h2v1h-2zM571 336h1v1h-1zM572 335h2v1h-2zM574 334h1v1h-1zM575 333h2v1h-2zM577 334h2v1h-2zM579 335h3v1h-3zM582 334h2v1h-2zM584 335h1v1h-1zM585 336h1v1h-1zM586 337h1v1h-1zM587 338h7v1h-7zM594 337h4v1h-4zM598 338h1v1h-1z" fill="#DC143C" shape-rendering="crispEdges"/>
<path d="M3 377h1v1h-1zM4 376h1v1h-1zM5 375h1v1h-1zM6 374h1v1h-1zM7 373h1v1h-1zM8 372h2v1h-2zM10 371h1v1h-1zM11 370h1v1h-1zM12 369h2v1h-2zM14 368h1v1h-1zM15 367h2v1h-2zM17 366h2v1h-2zM19 365h3v1h-3zM22 364h4v1h-4zM26 363h2v1h-2zM28 362h1v1h-1zM29 361h1v1h-1zM30 360h1v1h-1zM31 359h1v1h-1zM32 358h1v1h-1zM33 357h1v1h-1zM34 356h1v1h-1zM35 355h3v1h-3zM38 354h4v1h-4zM42 355h2v1h-2zM44 356h1v1h-1zM45 357h1v1h-1zM46 358h1v1h-1zM47 359h5v1h-5zM52 360h1v1h-1zM53 361h1v2h-1zM54 363h1v1h-1zM55 364h1v1h-1zM56 365h2v1h-2zM58 366h1v1h-1zM59 367h1v1h-1zM60 368h1v1h-1zM61 369h1v2h-1zM62 371h1v1h-1zM63 372h1v1h-1zM64 373h1v1h-1zM65 374h1v2h-1zM66 376h1v1h-1zM67 377h1v1h-1zM68 378h2v1h-2zM70 379h1v1h-1zM71 380h1v1h-1zM72 381h1v1h-1zM73 382h1v2h-1zM74 384h1v1h-1zM75 385h1v1h-1zM76 386h1v2h-1zM77 388h1v1h-1zM78 389h1v2h-1zM79 391h2v1h-2zM81 392h2v1h-2zM83 393h1v1h-1zM84 392h1v1h-1zM85 390h1v2h-1zM86 389h1v1h-1zM87 388h3v1h-3zM90 389h4v1h-4zM94 388h4v1h-4zM98 389h2v1h-2zM100 388h2v1h-2zM102 387h1v1h-1zM103 386h3v1h-3zM106 385h3v1h-3zM109 384h2v1h-2zM111 383h1v1h-1zM112 381h1v2h-1zM113 380h1v1h-1zM114 378h1v2h-1zM115 377h5v1h-5zM120 376h2v1h-2zM122 375h1v1h-1zM123 374h1v1h-1zM124 375h1v1h-1zM125 376h1v1h-1zM126 377h1v1h-1zM127 378h1v1h-1zM128 377h2v1h-2zM130 376h1v1h-1zM131 375h1v1h-1zM132 376h2v1h-2zM134 377h1v1h-1zM135 378h3v1h-3zM138 377h2v1h-2zM139 376h1v1h-1zM140 374h1v2h-1zM141 371h1v3h-1zM142 369h1v2h-1zM143 367h1v2h-1zM144 366h1v1h-1zM145 364h1v2h-1zM146 363h1v1h-1zM147 362h2v1h-2zM149 363h2v1h-2zM151 364h5v1h-5zM156 363h2v1h-2zM158 362h1v1h-1zM159 361h1v1h-1zM160 360h1v1h-1zM161 359h1v1h-1zM162 358h1v1h-1zM163 357h1v1h-1zM164 355h1v2h-1zM165 354h1v1h-1zM166 352h1v2h-1zM167 351h3v1h-3zM170 350h2v1h-2zM172 349h2v1h-2zM174 348h1v1h-1zM175 347h2v1h-2zM177 346h2v1h-2zM179 345h3v1h-3zM182 346h4v1h-4zM186 347h3v1h-3zM189 346h2v1h-2zM191 345h3v1h-3zM194 344h3v1h-3zM197 345h2v1h-2zM199 346h1v2h-1zM200 348h1v2h-1zM201 350h1v3h-1zM202 353h1v2h-1zM203 355h1v3h-1zM204 358h1v4h-1zM205 362h1v3h-1zM206 365h1v4h-1zM207 369h1v3h-1zM208 372h1v2h-1zM209 374h1v2h-1zM210 376h1v2h-1zM211 378h1v1h-1zM211 379h2v1h-2zM213 378h2v1h-2zM215 377h2v1h-2zM217 376h2v1h-2zM219 375h3v1h-3zM222 376h6v1h-6zM227 375h1v1h-1zM228 373h1v2h-1zM229 371h1v2h-1zM230 369h1v2h-1zM231 366h1v3h-1zM232 364h1v2h-1zM233 362h1v2h-1zM234 360h1v2h-1zM235 358h1v2h-1zM236 356h1v2h-1zM237 355h1v1h-1zM238 353h1v2h-1zM239 351h1v2h-1zM240 349h1v2h-1zM241 347h1v2h-1zM242 345h1v2h-1zM243 344h1v1h-1zM244 342h1v2h-1zM245 341h1v1h-1zM246 339h1v2h-1zM247 338h1v1h-1zM248 337h1v1h-1zM249 336h1v1h-1zM250 335h1v1h-1zM251 334h1v1h-1zM252 333h2v1h-2zM254 332h1v1h-1zM255 331h2v1h-2zM257 330h2v1h-2zM259 329h2v1h-2zM261 328h2v1h-2zM263 327h3v1h-3zM266 326h7v1h-7zM273 327h2v1h-2zM275 328h1v1h-1zM276 329h2v1h-2zM278 330h1v1h-1zM279 331h1v1h-1zM280 332h1v1h-1zM281 333h1v1h-1zM282 334h1v1h-1zM283 335h6v1h-6zM289 336h2v1h-2zM291 337h1v2h-1zM292 339h1v2h-1zM293 341h1v2h-1zM294 343h1v2h-1zM295 345h1v2h-1zM296 347h1v2h-1zM297 349h1v2h-1zM298 351h1v2h-1zM299 353h1v2h-1zM300 355h1v2h-1zM301 357h1v2h-1zM302 359h1v2h-1zM303 361h1v1h-1zM304 362h1v2h-1zM305 364h1v2h-1zM306 366h1v2h-1zM307 368h1v1h-1zM308 369h1v2h-1zM309 371h1v1h-1zM310 372h1v2h-1zM311 374h1v1h-1zM312 375h2v1h-2zM314 376h1v1h-1zM315 377h1v1h-1zM316 378h2v1h-2zM318 379h1v1h-1zM319 380h1v1h-1zM320 381h2v1h-2zM322 382h1v1h-1zM323 383h1v1h-1zM324 384h1v2h-1zM325 386h1v2h-1zM326 388h1v2h-1zM327 390h1v1h-1zM328 391h1v2h-1zM329 393h1v1h-1zM330 394h1v2h-1zM331 396h1v1h-1zM332 397h2v1h-2zM334 398h1v1h-1zM335 399h2v1h-2zM337 400h2v1h-2zM339 401h2v1h-2zM341 402h2v1h-2zM343 403h3v1h-3zM346 404h8v1h-8zM354 403h2v1h-2zM356 402h1v1h-1zM357 401h1v1h-1zM358 400h1v1h-1zM359 399h1v1h-1zM360 397h1v2h-1zM361 396h1v1h-1zM362 394h1v2h-1zM363 392h1v2h-1zM364 390h1v2h-1zM365 388h1v2h-1zM366 386h1v2h-1zM367 385h1v1h-1zM368 383h1v2h-1zM369 382h1v1h-1zM370 380h1v2h-1zM371 379h1v1h-1zM372 378h2v1h-2zM374 377h1v1h-1zM375 376h1v1h-1zM376 375h1v1h-1zM377 373h1v2h-1zM378 372h1v1h-1zM379 371h1v1h-1zM380 370h1v1h-1zM381 369h1v1h-1zM382 368h1v1h-1zM383 367h1v1h-1zM384 366h1v1h-1zM385 364h1v2h-1zM386 363h1v1h-1zM387 362h1v1h-1zM388 361h1v1h-1zM389 359h1v2h-1zM390 358h1v1h-1zM391 357h1v1h-1zM392 356h2v1h-2zM394 355h1v1h-1zM395 354h3v1h-3zM398 353h4v1h-4zM402 352h4v1h-4zM406 351h4v1h-4zM410 352h4v1h-4zM414 351h6v1h-6zM420 352h1v1h-1zM421 353h1v2h-1zM422 355h1v1h-1zM423 356h1v1h-1zM424 357h1v1h-1zM425 358h1v2h-1zM426 360h1v1h-1zM427 361h2v1h-2zM429 362h2v1h-2zM431 363h2v1h-2zM433 364h2v1h-2zM435 365h7v1h-7zM442 364h3v1h-3zM445 363h2v1h-2zM447 362h1v1h-1zM448 361h1v1h-1zM449 359h1v2h-1zM450 358h1v1h-1zM451 357h1v1h-1zM452 356h1v1h-1zM453 355h1v1h-1zM454 354h1v1h-1zM455 353h1v1h-1zM456 352h1v1h-1zM457 351h1v1h-1zM458 350h1v1h-1zM459 349h1v1h-1zM460 348h1v1h-1zM461 347h1v1h-1zM462 346h1v1h-1zM463 345h1v1h-1zM464 344h2v1h-2zM466 343h1v1h-1zM467 342h2v1h-2zM469 341h2v1h-2zM471 340h1v1h-1zM472 339h2v1h-2zM474 338h1v1h-1zM475 337h3v1h-3zM478 336h8v1h-8zM486 335h8v1h-8zM494 336h8v1h-8zM502 335h8v1h-8zM510 334h4v1h-4zM514 335h2v1h-2zM516 336h2v1h-2zM518 337h1v1h-1zM519 338h3v1h-3zM522 337h6v1h-6zM528 336h2v1h-2zM530 335h1v1h-1zM531 334h7v1h-7zM538 333h4v1h-4zM542 332h4v1h-4zM546 331h4v1h-4zM550 330h4v1h-4zM554 329h3v1h-3zM557 328h2v1h-2zM559 327h3v1h-3zM562 326h3v1h-3zM565 325h2v1h-2zM567 324h7v1h-7zM574 323h8v1h-8zM582 322h8v1h-8zM590 321h4v1h-4zM594 320h4v1h-4zM598 321h1v1h-1z" fill="#32CD32" shape-rendering="crispEdges"/>
<g id="labels" opacity="0.999">
<text y="14"><tspan x="6.5" textLength="60" lengthAdjust="spacingAndGlyphs">EURUSD,M15</tspan>  <tspan x="72.7" textLength="28.4" lengthAdjust="spacingAndGlyphs">1.4408</tspan> <tspan x="103.8" textLength="28.4" lengthAdjust="spacingAndGlyphs">1.4408</tspan> <tspan x="134.8" textLength="28.4" lengthAdjust="spacingAndGlyphs">1.4404</tspan> <tspan x="166.1" textLength="28.4" lengthAdjust="spacingAndGlyphs">1.4407</tspan></text>
<text y="324"><tspan x="6.5" textLength="40.4" lengthAdjust="spacingAndGlyphs">RSIonMA</tspan> <tspan x="50.2" textLength="33" lengthAdjust="spacingAndGlyphs">64.6113</tspan> <tspan x="87" textLength="33" lengthAdjust="spacingAndGlyphs">79.4846</tspan> <tspan x="122.3" textLength="28.4" lengthAdjust="spacingAndGlyphs">0.0001</tspan> <tspan x="153.5" textLength="28.4" lengthAdjust="spacingAndGlyphs">0.0000</tspan></text>
<text y="458"><tspan x="5.6" textLength="40.6" lengthAdjust="spacingAndGlyphs">Ft-Trade,</tspan> <tspan x="50.6" textLength="8.6" lengthAdjust="spacingAndGlyphs">©</tspan> <tspan x="63.3" textLength="42.2" lengthAdjust="spacingAndGlyphs">2001-2007</tspan> <tspan x="109.6" textLength="52.8" lengthAdjust="spacingAndGlyphs">MetaQuotes</tspan> <tspan x="165.2" textLength="40" lengthAdjust="spacingAndGlyphs">Software</tspan> <tspan x="208.6" textLength="25.4" lengthAdjust="spacingAndGlyphs">Corp.</tspan></text>
<text x="606.3" y="18" textLength="26.8" lengthAdjust="spacingAndGlyphs">1.4275</text>
<text x="606.3" y="53" textLength="26.8" lengthAdjust="spacingAndGlyphs">1.4260</text>
<text x="606.3" y="88" textLength="26.8" lengthAdjust="spacingAndGlyphs">1.4245</text>
<text x="606.3" y="123" textLength="26.8" lengthAdjust="spacingAndGlyphs">1.4230</text>
<text x="606.3" y="158" textLength="26.8" lengthAdjust="spacingAndGlyphs">1.4215</text>
<text x="606.3" y="194" textLength="26.8" lengthAdjust="spacingAndGlyphs">1.4200</text>
<text x="606.3" y="229" textLength="26.8" lengthAdjust="spacingAndGlyphs">1.4185</text>
<text x="606.3" y="264" textLength="26.8" lengthAdjust="spacingAndGlyphs">1.4170</text>
<text x="606.3" y="299" textLength="26.8" lengthAdjust="spacingAndGlyphs">1.4155</text>
<text x="603.6" y="321" textLength="14.9" lengthAdjust="spacingAndGlyphs">100</text>
<text x="603.6" y="459" textLength="5.2" lengthAdjust="spacingAndGlyphs">0</text>
<text x="2" y="475" textLength="50.3" lengthAdjust="spacingAndGlyphs">16 Oct 2007</text>
<text x="66" y="475" textLength="53.2" lengthAdjust="spacingAndGlyphs">17 Oct 01:45</text>
<text x="130" y="475" textLength="53.2" lengthAdjust="spacingAndGlyphs">17 Oct 05:45</text>
<text x="194" y="475" textLength="53.2" lengthAdjust="spacingAndGlyphs">17 Oct 09:45</text>
<text x="258" y="475" textLength="53.2" lengthAdjust="spacingAndGlyphs">17 Oct 13:45</text>
<text x="322" y="475" textLength="53.2" lengthAdjust="spacingAndGlyphs">17 Oct 17:45</text>
<text x="386" y="475" textLength="53.2" lengthAdjust="spacingAndGlyphs">17 Oct 21:45</text>
<text x="450" y="475" textLength="53.2" lengthAdjust="spacingAndGlyphs">18 Oct 01:45</text>
<text x="514" y="475" textLength="53.2" lengthAdjust="spacingAndGlyphs">18 Oct 05:45</text>
<text x="578" y="475" textLength="53.2" lengthAdjust="spacingAndGlyphs">18 Oct 09:45</text>
</g>
</svg></body></html>
